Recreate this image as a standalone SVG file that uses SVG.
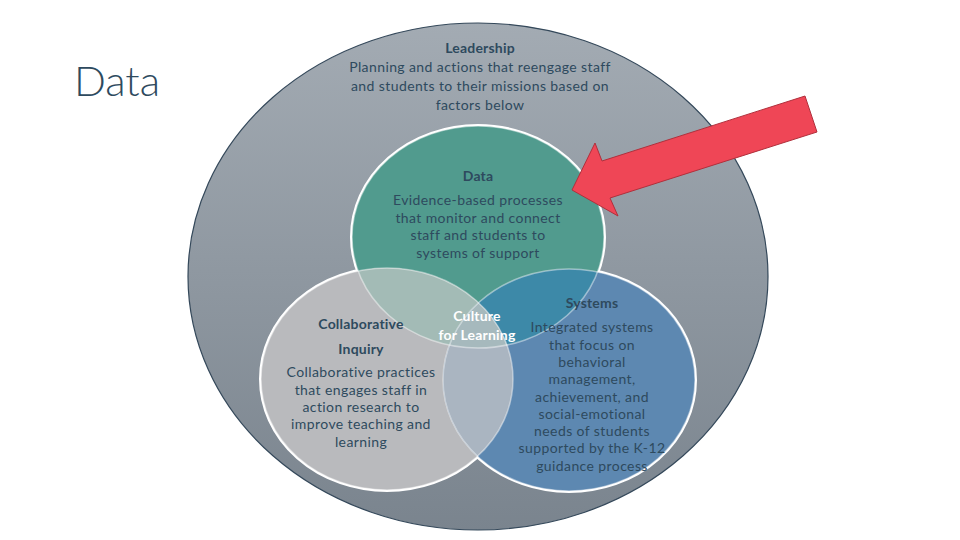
<svg xmlns="http://www.w3.org/2000/svg" width="960" height="540" viewBox="0 0 960 540">
<defs>
<linearGradient id="gBig" x1="0" y1="0" x2="0" y2="1">
<stop offset="0" stop-color="#a3abb3"/>
<stop offset="1" stop-color="#7a848e"/>
</linearGradient>
<clipPath id="cData"><ellipse cx="478" cy="237" rx="126" ry="111"/></clipPath>
<clipPath id="cCol"><ellipse cx="387" cy="379" rx="126" ry="111"/></clipPath>
<clipPath id="cSys"><ellipse cx="569" cy="380" rx="126" ry="111"/></clipPath>
<style>
.t{font-family:Lato,"Liberation Sans",sans-serif;font-size:14px;letter-spacing:0.4px;fill:#2e4a5e;text-anchor:middle}
.b{font-weight:bold;letter-spacing:0.2px}
.w{fill:#ffffff;font-weight:bold;letter-spacing:0.2px}
.halo{fill:none;stroke:#ffffff;stroke-width:4}
.inner{fill:none;stroke:#ffffff;stroke-opacity:0.45;stroke-width:1.5}
</style>
</defs>
<rect width="960" height="540" fill="#ffffff"/>
<text x="117" y="96" style="font-family:Lato,'Liberation Sans',sans-serif;font-size:42px;font-weight:300;fill:#2e4a5e;text-anchor:middle">Data</text>

<g id="leadership">
<ellipse cx="478" cy="276.5" rx="290" ry="253.5" fill="url(#gBig)" stroke="#34485a" stroke-width="1.2"/>
<text class="t b" x="480" y="53">Leadership</text>
<text class="t" x="480" y="72">Planning and actions that reengage staff</text>
<text class="t" x="480" y="91">and students to their missions based on</text>
<text class="t" x="480" y="110">factors below</text>
</g>

<g id="venn-outline">
<ellipse class="halo" cx="478" cy="237" rx="126" ry="111"/>
<ellipse class="halo" cx="387" cy="379" rx="126" ry="111"/>
<ellipse class="halo" cx="569" cy="380" rx="126" ry="111"/>
</g>

<g id="data">
<ellipse cx="478" cy="237" rx="126" ry="111" fill="#519b8e"/>
</g>
<g id="collaborative-inquiry">
<ellipse cx="387" cy="379" rx="126" ry="111" fill="#b9babd"/>
</g>
<g id="systems">
<ellipse cx="569" cy="380" rx="126" ry="111" fill="#5d88b1"/>
</g>
<g id="overlaps">
<g clip-path="url(#cData)"><ellipse cx="387" cy="379" rx="126" ry="111" fill="#a3bbb6"/></g>
<g clip-path="url(#cData)"><ellipse cx="569" cy="380" rx="126" ry="111" fill="#3d89a8"/></g>
<g clip-path="url(#cCol)"><ellipse cx="569" cy="380" rx="126" ry="111" fill="#aab5c1"/></g>
<g clip-path="url(#cData)"><g clip-path="url(#cCol)"><ellipse cx="569" cy="380" rx="126" ry="111" fill="#a6b9bd"/></g></g>
<ellipse class="inner" cx="478" cy="237" rx="126" ry="111"/>
<ellipse class="inner" cx="387" cy="379" rx="126" ry="111"/>
<ellipse class="inner" cx="569" cy="380" rx="126" ry="111"/>
</g>

<g id="data-text">
<text class="t b" x="478" y="181">Data</text>
<text class="t" x="478" y="205">Evidence-based processes</text>
<text class="t" x="478" y="223">that monitor and connect</text>
<text class="t" x="478" y="240">staff and students to</text>
<text class="t" x="478" y="258">systems of support</text>
</g>
<g id="collab-text">
<text class="t b" x="361" y="329">Collaborative</text>
<text class="t b" x="361" y="354">Inquiry</text>
<text class="t" x="361" y="377">Collaborative practices</text>
<text class="t" x="361" y="395">that engages staff in</text>
<text class="t" x="361" y="412">action research to</text>
<text class="t" x="361" y="429">improve teaching and</text>
<text class="t" x="361" y="447">learning</text>
</g>
<g id="culture">
<text class="t w" x="477" y="321">Culture</text>
<text class="t w" x="477" y="340">for Learning</text>
</g>
<g id="systems-text">
<text class="t b" x="592" y="308">Systems</text>
<text class="t" x="592" y="332">Integrated systems</text>
<text class="t" x="592" y="350">that focus on</text>
<text class="t" x="592" y="367">behavioral</text>
<text class="t" x="592" y="384">management,</text>
<text class="t" x="592" y="402">achievement, and</text>
<text class="t" x="592" y="419">social-emotional</text>
<text class="t" x="592" y="436">needs of students</text>
<text class="t" x="592" y="453">supported by the K-12</text>
<text class="t" x="592" y="471">guidance process</text>
</g>
<g id="connectors">
<polygon id="arrow" points="572,190 595,143 602,161 805,96 817,132 610,198 618,216" fill="#ef4656" stroke="#b0303c" stroke-width="1" stroke-linejoin="miter"/>
</g>
</svg>
